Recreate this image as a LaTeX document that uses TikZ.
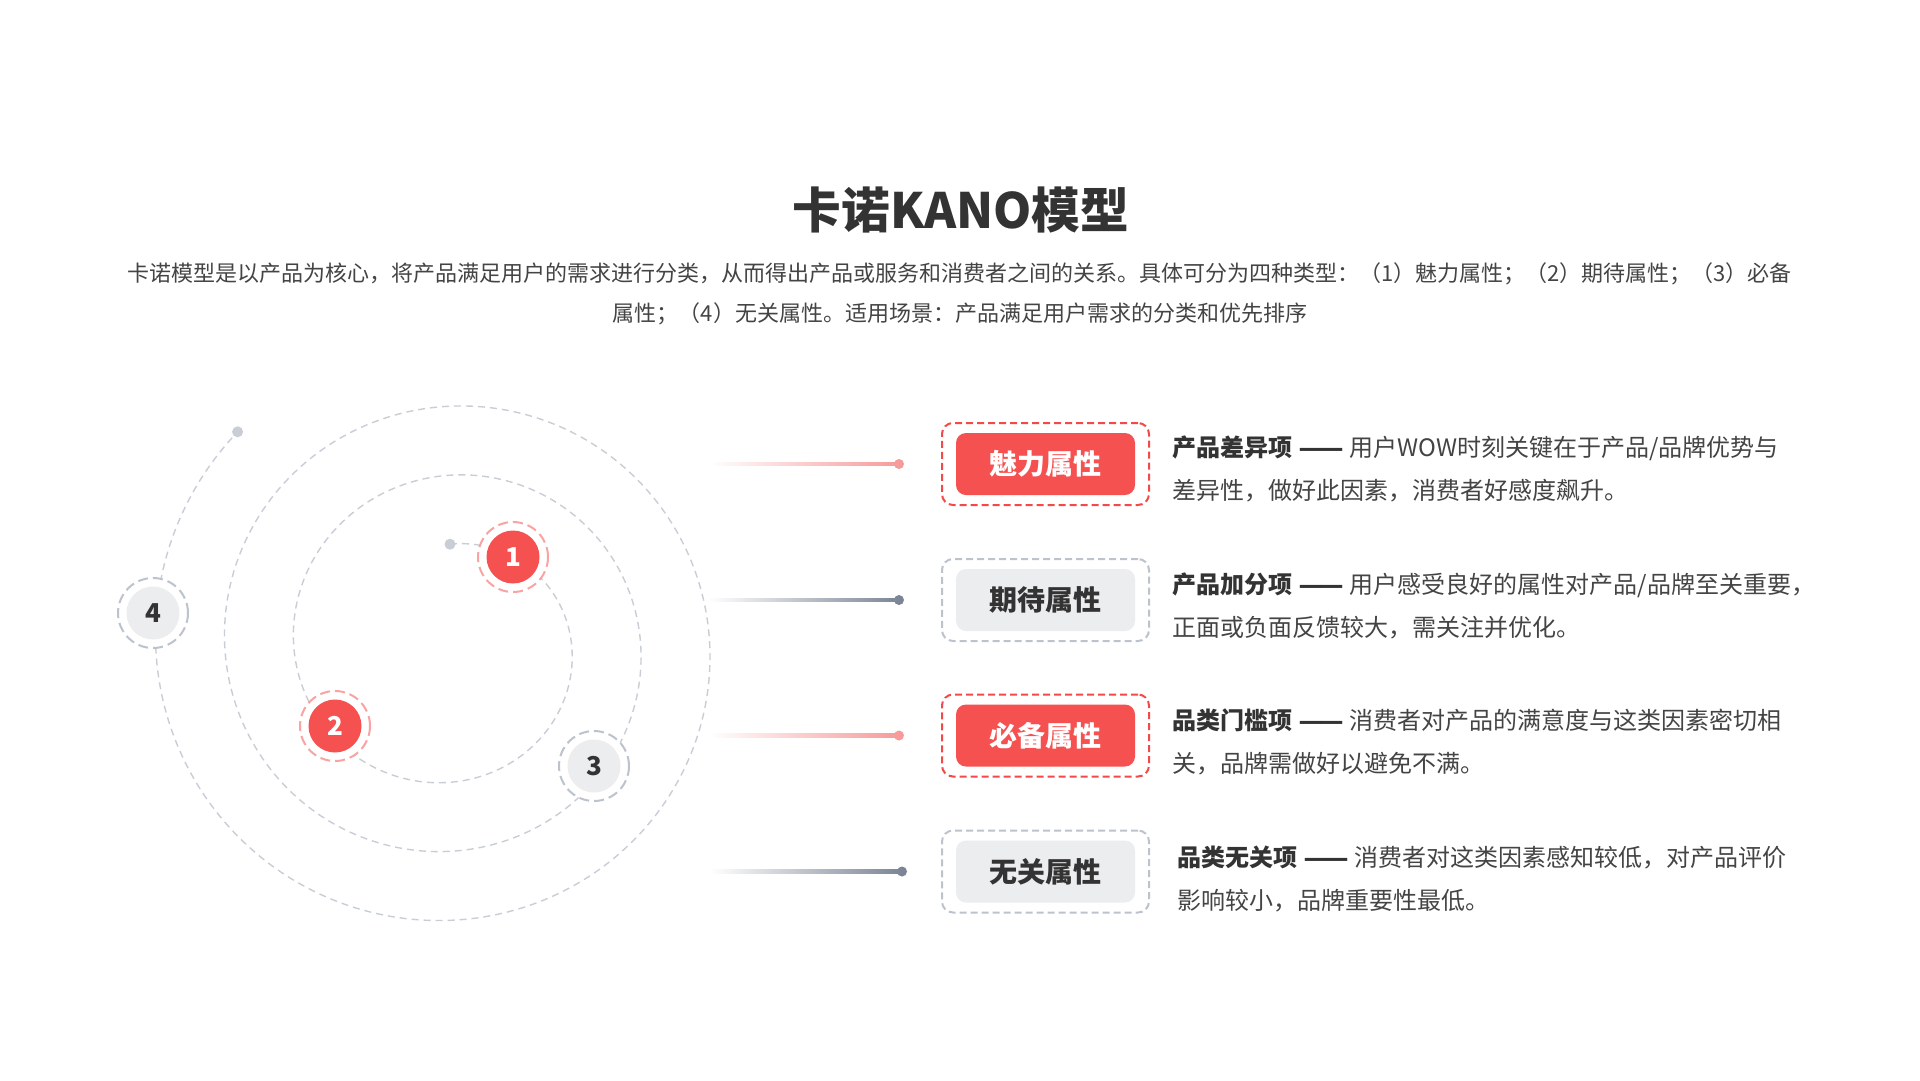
\documentclass[tikz,border=0pt]{standalone}
\usepackage{fontspec}
\setmainfont{Noto Sans CJK SC}
\newfontfamily\kdashfont{DejaVu Sans}
\usetikzlibrary{calc}
\definecolor{kred}{HTML}{F65151}
\definecolor{kredring}{HTML}{F9A3A3}
\definecolor{kredline}{HTML}{F79A9A}
\definecolor{kredbox}{HTML}{F54848}
\definecolor{kgrey}{HTML}{ECEDEF}
\definecolor{kgreyring}{HTML}{BCC3CD}
\definecolor{kslate}{HTML}{7B8596}
\definecolor{kspiral}{HTML}{C9CED6}
\definecolor{kdark}{HTML}{333333}
\definecolor{kbody}{HTML}{444444}
\newcommand{\kdash}{{\kdashfont\bfseries\color{kdark}\kern1pt—\kern-3pt—\kern1pt}}
\begin{document}
\begin{tikzpicture}[x=1pt,y=-1pt,
  spiralline/.style={draw=kspiral, line width=1.4pt, dash pattern=on 7pt off 5pt},
  redring/.style={circle, draw=kredring, fill=white, line width=2pt, dash pattern=on 10pt off 5pt, minimum size=70pt, inner sep=0pt},
  greyring/.style={circle, draw=kgreyring, fill=white, line width=2pt, dash pattern=on 10pt off 5pt, minimum size=70pt, inner sep=0pt},
  rednum/.style={circle, fill=kred, text=white, minimum size=53pt, inner sep=0pt, font=\fontsize{26}{30}\selectfont\bfseries, text height=19pt, text depth=0pt},
  greynum/.style={circle, fill=kgrey, text=kdark, minimum size=53pt, inner sep=0pt, font=\fontsize{26}{30}\selectfont\bfseries, text height=19pt, text depth=0pt},
  enddot/.style={circle, fill=kspiral, minimum size=11pt, inner sep=0pt},
  linedot/.style={circle, minimum size=10pt, inner sep=0pt},
  outerred/.style={draw=kredbox, line width=2pt, dash pattern=on 7pt off 4pt, rounded corners=11pt, minimum width=207pt, minimum height=82pt, inner sep=0pt},
  outergrey/.style={draw=kgreyring, line width=2pt, dash pattern=on 7pt off 4pt, rounded corners=11pt, minimum width=207pt, minimum height=82pt, inner sep=0pt},
  innerred/.style={fill=kred, text=white, rounded corners=10pt, minimum width=179pt, minimum height=62pt, inner sep=0pt, font=\fontsize{28}{32}\selectfont\bfseries, text height=24.6pt, text depth=3.4pt},
  innergrey/.style={fill=kgrey, text=kdark, rounded corners=10pt, minimum width=179pt, minimum height=62pt, inner sep=0pt, font=\fontsize{28}{32}\selectfont\bfseries, text height=24.6pt, text depth=3.4pt},
  desc/.style={anchor=base west, align=left, inner sep=0pt, text=kbody, font=\fontsize{24}{43}\selectfont}
]
\useasboundingbox[fill=white] (0,0) rectangle (1920,1080);

% title and introduction
\node[anchor=base, inner sep=0pt, text=kdark, font=\fontsize{48.7}{56}\selectfont\bfseries] (title) at (961,228) {卡诺KANO模型};
\node[anchor=base, inner sep=0pt, text=kbody, font=\fontsize{22}{26}\selectfont] (intro1) at (959.5,281.5) {卡诺模型是以产品为核心，将产品满足用户的需求进行分类，从而得出产品或服务和消费者之间的关系。具体可分为四种类型：（1）魅力属性；（2）期待属性；（3）必备};
\node[anchor=base, inner sep=0pt, text=kbody, font=\fontsize{22}{26}\selectfont] (intro2) at (960,321.5) {属性；（4）无关属性。适用场景：产品满足用户需求的分类和优先排序};

% spiral
\draw[spiralline] plot[domain=0:1035.5, samples=500, smooth, variable=\t]
  ({450 + (104.5+0.1917*\t)*sin(\t)}, {646 - (101.8+0.1917*\t)*cos(\t)});
\node[enddot] (d1) at (450,544.2) {};
\node[enddot] (d4) at (237.6,431.8) {};

% numbered circles
\node[redring] (r1) at (513,557) {};
\node[rednum] (c1) at (r1) {1};
\node[redring] (r2) at (335,726) {};
\node[rednum] (c2) at (r2) {2};
\node[greyring] (r3) at (594,766) {};
\node[greynum] (c3) at (r3) {3};
\node[greyring] (r4) at (153,613) {};
\node[greynum] (c4) at (r4) {4};

% connectors
\coordinate (s1) at (708,464);
\coordinate (s2) at (708,600);
\coordinate (s3) at (708,735.5);
\coordinate (s4) at (710,871.5);
\node[linedot, fill=kredline] (p1) at (899,464) {};
\node[linedot, fill=kslate] (p2) at (899,600) {};
\node[linedot, fill=kredline] (p3) at (899,735.5) {};
\node[linedot, fill=kslate] (p4) at (902,871.5) {};
\shade[left color=white, right color=kredline] ($(s1)+(0,-1.8)$) rectangle ($(p1)+(0,1.8)$);
\shade[left color=white, right color=kslate] ($(s2)+(0,-1.8)$) rectangle ($(p2)+(0,1.8)$);
\shade[left color=white, right color=kredline] ($(s3)+(0,-1.8)$) rectangle ($(p3)+(0,1.8)$);
\shade[left color=white, right color=kslate] ($(s4)+(0,-1.8)$) rectangle ($(p4)+(0,1.8)$);

% attribute boxes
\node[outerred] (o1) at (1045.5,464) {};
\node[innerred] (b1) at (o1) {魅力属性};
\node[outergrey] (o2) at (1045.5,600) {};
\node[innergrey] (b2) at (o2) {期待属性};
\node[outerred] (o3) at (1045.5,735.5) {};
\node[innerred] (b3) at (o3) {必备属性};
\node[outergrey] (o4) at (1045.5,871.5) {};
\node[innergrey] (b4) at (o4) {无关属性};

% descriptions (base anchor = last line)
\node[desc] (t1) at (1172,499) {{\bfseries\color{kdark}产品差异项} \kdash{} 用户WOW时刻关键在于产品/品牌优势与\\差异性，做好此因素，消费者好感度飙升。};
\node[desc] (t2) at (1172,636) {{\bfseries\color{kdark}产品加分项} \kdash{} 用户感受良好的属性对产品/品牌至关重要，\\正面或负面反馈较大，需关注并优化。};
\node[desc] (t3) at (1172,772) {{\bfseries\color{kdark}品类门槛项} \kdash{} 消费者对产品的满意度与这类因素密切相\\关，品牌需做好以避免不满。};
\node[desc] (t4) at (1177,909) {{\bfseries\color{kdark}品类无关项} \kdash{} 消费者对这类因素感知较低，对产品评价\\影响较小，品牌重要性最低。};
\end{tikzpicture}
\end{document}
